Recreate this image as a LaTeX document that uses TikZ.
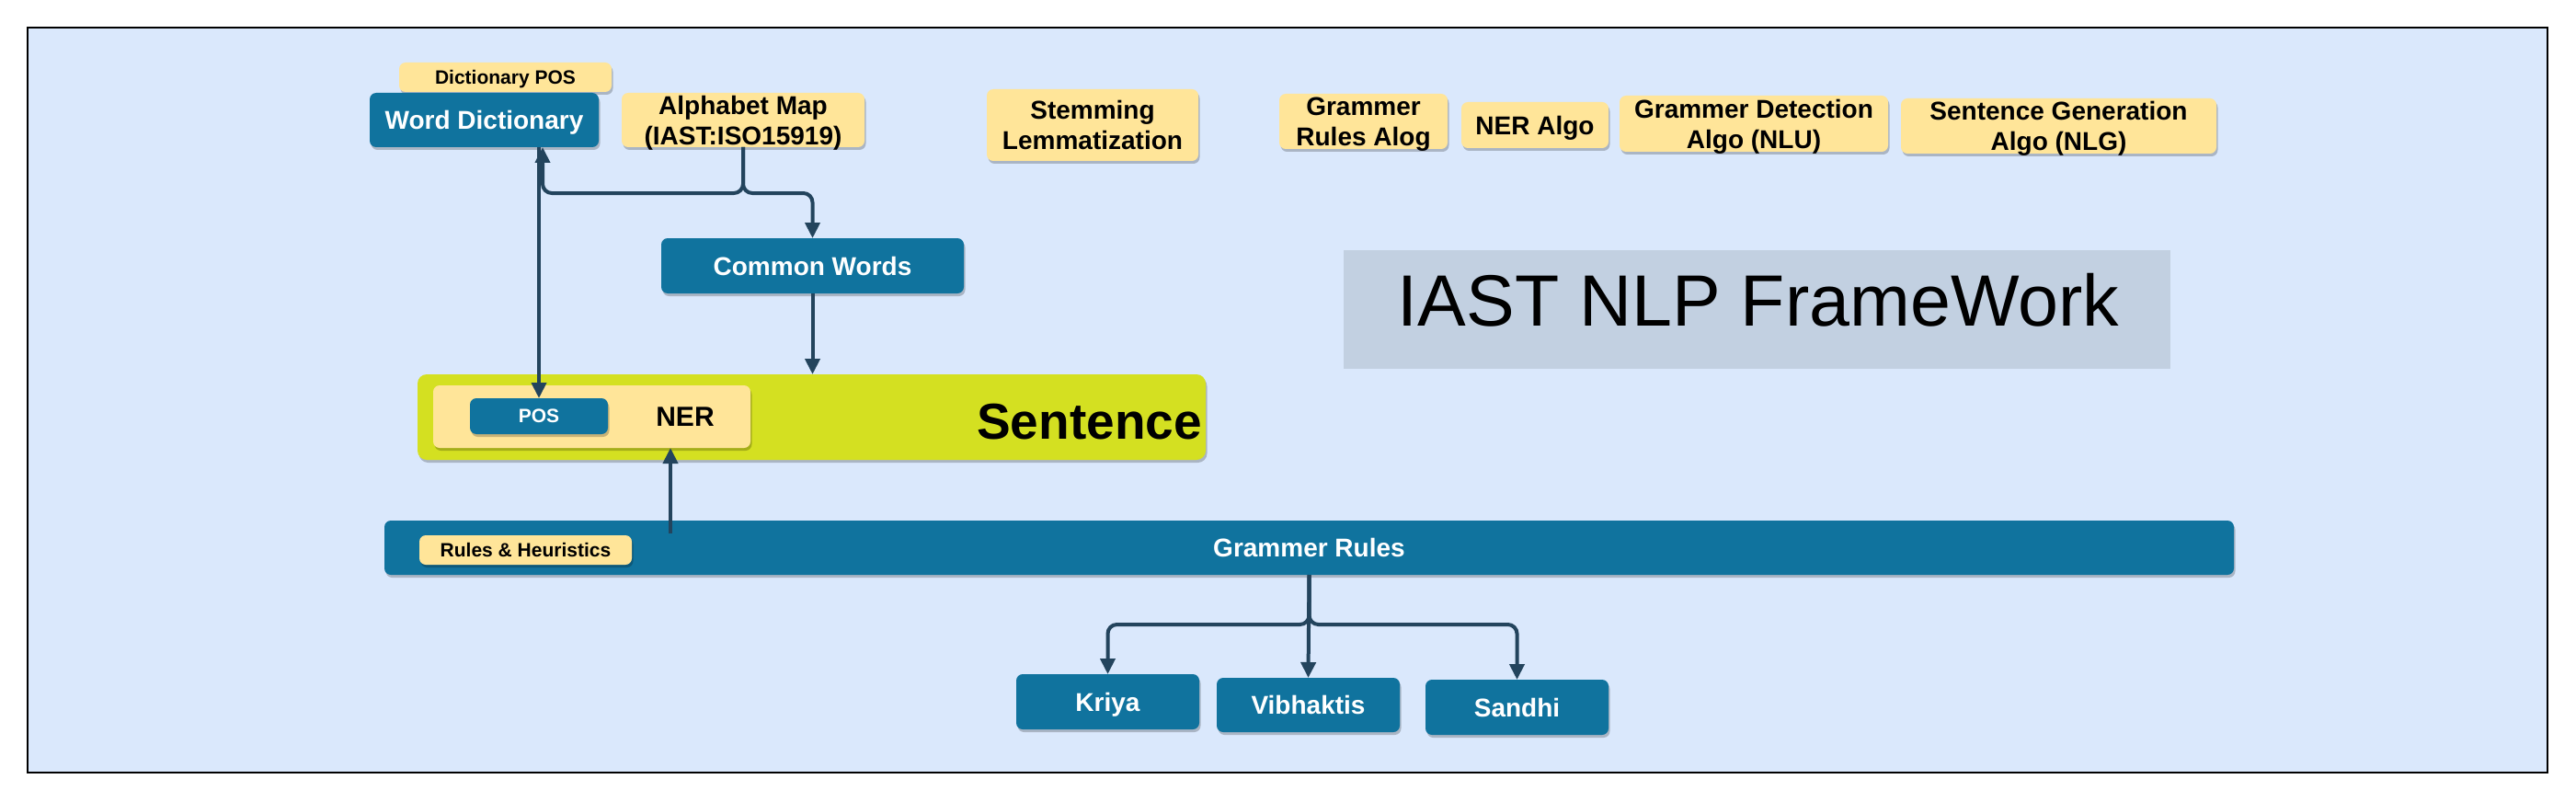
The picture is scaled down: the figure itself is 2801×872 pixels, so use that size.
\documentclass[tikz,border=0pt]{standalone}
\usepackage{fontspec}
\setmainfont{Liberation Sans}
\usetikzlibrary{arrows.meta,shadows,calc}
\definecolor{bgblue}{HTML}{DAE8FC}
\definecolor{boxblue}{HTML}{10739E}
\definecolor{boxyellow}{HTML}{FFE599}
\definecolor{sentlime}{HTML}{D4E021}
\definecolor{titlegray}{HTML}{C2D0E1}
\definecolor{linec}{HTML}{23445D}
\begin{document}
\begin{tikzpicture}[x=1pt,y=-1pt,
  base/.style={rectangle, rounded corners=7pt, inner sep=0pt, outer sep=0pt, align=center, text depth=0pt,
    drop shadow={shadow xshift=1.5pt, shadow yshift=-3pt, fill=black, opacity=0.22}},
  sz/.style 2 args={minimum width=#1pt, minimum height=#2pt},
  bluebox/.style={base, fill=boxblue, text=white, font=\bfseries\fontsize{28}{33}\selectfont},
  yellowbox/.style={base, fill=boxyellow, text=black, font=\bfseries\fontsize{28}{33}\selectfont},
  smalltxt/.style={font=\bfseries\fontsize{21}{25}\selectfont},
  conn/.style={draw=linec, line width=4pt, rounded corners=10pt, -{Triangle[width=16pt,length=17pt]}}
]
\useasboundingbox (0,0) rectangle (2801,872);
\fill[white] (0,0) rectangle (2801,872);
\node[draw=black, line width=2pt, fill=bgblue, inner sep=0, outer sep=0, sz={2740}{810}] (frame) at (1400,435) {};

% top row
\node[yellowbox, smalltxt, sz={231}{32}] (dictpos) at (549.5,84) {Dictionary POS};
\node[bluebox, sz={249}{59}] (worddict) at (526.5,130.5) {Word Dictionary};
\node[yellowbox, sz={264}{59}] (alpha) at (808,130.5) {Alphabet Map\\(IAST:ISO15919)};
\node[yellowbox, sz={230}{78}] (stem) at (1188,136) {Stemming\\Lemmatization};
\node[yellowbox, sz={183}{60}] (gra) at (1482.5,132) {Grammer\\Rules Alog};
\node[yellowbox, sz={160}{50}] (neralgo) at (1669,136) {NER Algo};
\node[yellowbox, sz={292}{61}] (gdet) at (1907,134.5) {Grammer Detection\\Algo (NLU)};
\node[yellowbox, sz={343}{60}] (sgen) at (2238.5,137) {Sentence Generation\\Algo (NLG)};

\node[bluebox, sz={329}{60}] (common) at (883.5,289) {Common Words};

% title
\node[rectangle, fill=titlegray, inner sep=0, outer sep=0, sz={899}{129}] (titlebox) at (1910.5,336.5) {};
\node[inner sep=0, font=\fontsize{79}{90}\selectfont] (titletext) at (1912,326.5) {IAST NLP FrameWork};

% sentence
\node[base, rounded corners=10pt, fill=sentlime, sz={857}{93}] (sentence) at (882.5,453.5) {};
\node[base, fill=boxyellow, sz={345}{68}] (nerbox) at (643.5,453) {};
\node[inner sep=0, font=\bfseries\fontsize{30}{34}\selectfont] (nerlabel) at (745,453) {NER};
\node[bluebox, smalltxt, sz={150}{39}] (pos) at (586,452.5) {POS};
\node[inner sep=0, anchor=east, font=\bfseries\fontsize{55}{60}\selectfont] (sentlabel) at (1307,458.5) {Sentence};

% grammar rules bar
\node[bluebox, sz={2011}{59}] (gr) at (1423.5,595.5) {Grammer Rules};
\node[yellowbox, smalltxt, sz={231}{32}] (rh) at (571.5,598) {Rules \& Heuristics};

% bottom
\node[bluebox, sz={199}{60}] (kriya) at (1204.5,763) {Kriya};
\node[bluebox, sz={199}{59}] (vibh) at (1422.5,766.5) {Vibhaktis};
\node[bluebox, sz={199}{60}] (sandhi) at (1649.5,769) {Sandhi};

% connectors
\draw[conn] (alpha.south) -- ++(0,50) -| ([xshift=63.5pt]worddict.south);
\draw[conn] (alpha.south) -- ++(0,50) -| (common.north);
\draw[conn] (worddict.south -| pos.north) -- (pos.north);
\draw[conn] (common.south) -- (common.south |- sentence.north);
\coordinate (grsrc) at (729,580);
\draw[conn] (grsrc) -- (grsrc |- nerbox.south);
\draw[conn] (gr.south) -- ++(0,54) -| (kriya.north);
\draw[conn] (gr.south) -- (vibh.north);
\draw[conn] (gr.south) -- ++(0,54) -| (sandhi.north);
\end{tikzpicture}
\end{document}
